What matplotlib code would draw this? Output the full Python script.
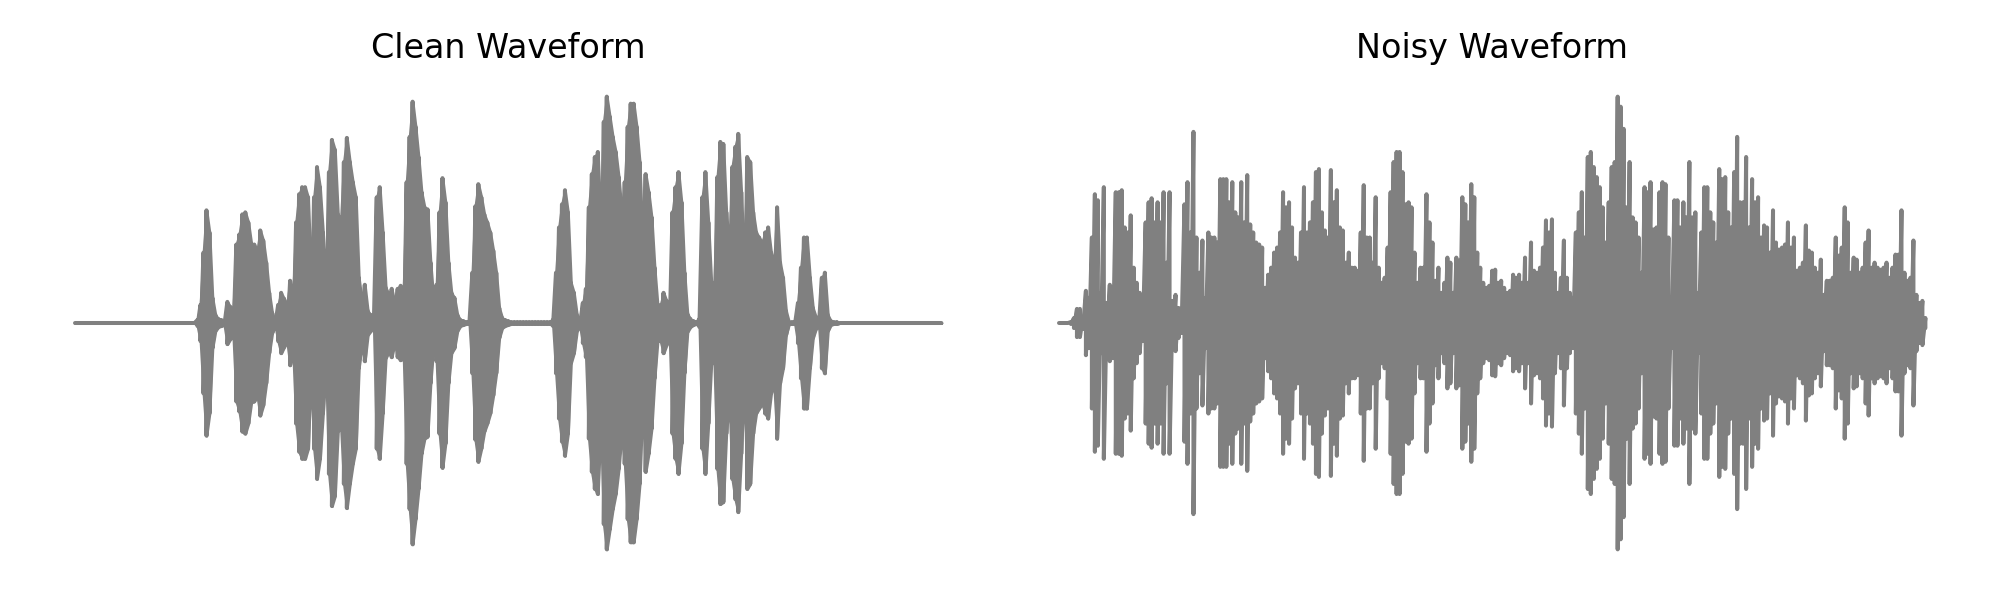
import numpy as np
import matplotlib
matplotlib.use("Agg")
import matplotlib.pyplot as plt

titles = ["Clean Waveform", "Noisy Waveform"]

# Envelope amplitude of each waveform, one value per time step
clean_envelope = [
    0,0,0,0,0,0,0,0,0,0,0,0,0,0,0,0,0,0,0,0,0,0,0,0,0,0,0,0,0,0,0,0,0,0,0,0,0,0,0,0,0,
    3,18,70,112,90,25,8,4,3,2,21,16,14,78,88,108,110,100,79,78,72,92,82,60,30,10,2,18,30,24,18,42,28,
    100,128,135,135,125,50,125,155,135,90,43,150,182,172,108,103,160,184,160,140,125,45,22,38,12,8,3,
    125,135,90,35,29,34,20,34,37,35,140,185,220,195,165,130,115,113,60,23,38,110,144,120,60,30,25,8,3,2,1,1,
    50,116,138,125,108,100,90,72,50,15,
    5,3,2,1,1,1,1,1,1,1,1,1,1,1,1,1,1,
    3,50,95,118,132,110,40,30,8,3,20,34,115,148,165,170,100,200,225,205,185,170,145,110,140,195,218,218,195,160,80,
    148,130,105,55,18,18,30,22,12,110,135,150,120,50,9,4,2,1,4,125,150,100,40,40,145,180,178,110,75,155,175,188,130,
    60,165,160,110,90,85,80,90,95,70,60,115,60,45,12,1,1,1,20,55,85,85,45,15,6,3,45,50,8,2,1,1,
    0,0,0,0,0,0,0,0,0,0,0,0,0,0,0,0,0,0,0,0,0,0,0,0,0,0,0,0,0,0,0,0,0,0,0,
]
noisy_envelope = [
    0,0,0,0,1,5,14,14,6,32,25,85,128,122,30,135,20,38,35,130,130,132,95,90,107,55,40,30,18,100,120,124,100,120,100,130,60,130,
    22,28,15,10,118,140,90,190,85,50,82,25,90,85,85,80,143,143,143,120,140,110,105,140,100,147,98,90,80,78,75,35,48,55,70,75,90,
    130,115,120,95,65,60,90,135,90,100,120,150,153,110,92,85,152,120,132,95,92,60,70,55,55,52,90,137,85,85,60,125,55,40,45,75,
    130,160,170,170,150,118,120,115,70,40,55,55,128,100,80,42,55,30,40,65,60,30,65,62,125,118,100,138,125,70,55,40,35,37,
    52,53,40,42,35,30,32,48,45,48,40,65,40,80,52,50,55,75,102,90,103,50,30,45,82,45,30,25,90,110,130,85,165,170,155,145,135,115,80,
    120,155,160,225,215,193,115,160,105,100,85,50,135,130,140,93,95,130,140,138,85,25,122,122,95,120,105,160,105,110,30,90,135,135,
    110,100,80,153,143,145,110,95,150,185,120,120,165,95,143,120,125,85,97,95,70,112,80,73,75,78,100,75,85,52,55,60,97,72,70,55,50,63,
    28,42,42,45,85,67,75,115,100,50,65,63,50,55,80,92,55,60,55,53,55,60,45,55,68,68,112,50,42,45,82,28,20,22,5,
]

LINE_COLOR = "#808080"


def waveform(envelope):
    amp = np.asarray(envelope, dtype=float)
    t = np.arange(amp.size)
    return np.repeat(t, 2), np.column_stack([amp, -amp]).ravel()


fig = plt.figure(figsize=(10, 3), dpi=200)
lefts = [31.7 / 2000, 1015.7 / 2000]
for k, (left, title, env) in enumerate(zip(lefts, titles, [clean_envelope, noisy_envelope])):
    ax = fig.add_axes([left, 28 / 600, 953 / 2000, 498 / 600])
    x, y = waveform(env)
    ax.plot(x, y, color=LINE_COLOR, lw=1.45, solid_capstyle="round")
    if k == 0:
        # the clean signal is dense: its outline runs smoothly from peak to peak
        amp = np.asarray(env, dtype=float)
        ax.fill_between(np.arange(amp.size), -amp, amp, color=LINE_COLOR, lw=1.0)
    ax.set_title(title, fontsize=12, pad=5.6)
    ax.axis("off")

fig.savefig("out.png", dpi=200)
